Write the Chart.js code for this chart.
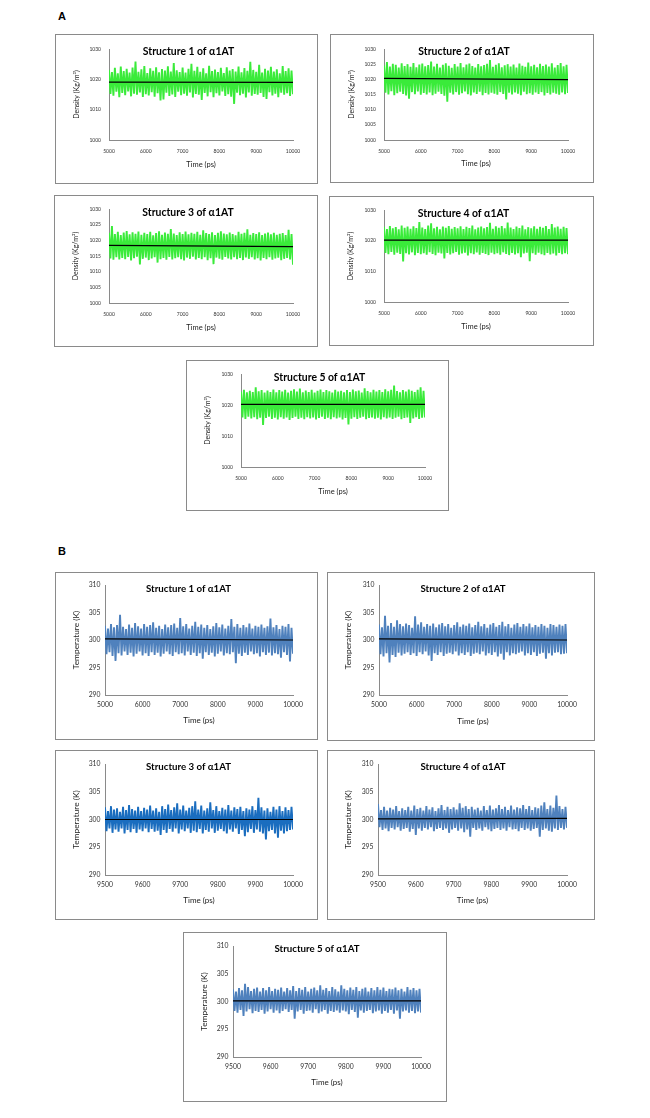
<!DOCTYPE html>
<html><head><meta charset="utf-8">
<script src="https://cdn.jsdelivr.net/npm/chart.js@4.4.1/dist/chart.umd.min.js"></script>
<style>
body{margin:0;background:#fff;width:650px;height:1118px;position:relative;overflow:hidden;font-family:Lato,sans-serif}
.panel{position:absolute;border:1px solid #8a8a8a;box-sizing:border-box;background:#fff}
.panel canvas{position:absolute;left:0;top:0}
.lbl{position:absolute;font:bold 11px "Liberation Sans",Arial,sans-serif;color:#000}
</style></head><body>
<div class="lbl" style="left:58px;top:10px">A</div>
<div class="lbl" style="left:58px;top:545px">B</div>
<script>
// ---------- sampled times (ps) ----------
const timesLong = [5000,5040,5080,5120,5160,5200,5240,5280,5320,5360,
 5400,5440,5480,5520,5560,5600,5640,5680,5720,5760,
 5800,5840,5880,5920,5960,6000,6040,6080,6120,6160,
 6200,6240,6280,6320,6360,6400,6440,6480,6520,6560,
 6600,6640,6680,6720,6760,6800,6840,6880,6920,6960,
 7000,7040,7080,7120,7160,7200,7240,7280,7320,7360,
 7400,7440,7480,7520,7560,7600,7640,7680,7720,7760,
 7800,7840,7880,7920,7960,8000,8040,8080,8120,8160,
 8200,8240,8280,8320,8360,8400,8440,8480,8520,8560,
 8600,8640,8680,8720,8760,8800,8840,8880,8920,8960,
 9000,9040,9080,9120,9160,9200,9240,9280,9320,9360,
 9400,9440,9480,9520,9560,9600,9640,9680,9720,9760,
 9800,9840,9880,9920,9960,10000];
const timesShort = [9500,9504,9508,9512,9516,9520,9524,9528,9532,9536,
 9540,9544,9548,9552,9556,9560,9564,9568,9572,9576,
 9580,9584,9588,9592,9596,9600,9604,9608,9612,9616,
 9620,9624,9628,9632,9636,9640,9644,9648,9652,9656,
 9660,9664,9668,9672,9676,9680,9684,9688,9692,9696,
 9700,9704,9708,9712,9716,9720,9724,9728,9732,9736,
 9740,9744,9748,9752,9756,9760,9764,9768,9772,9776,
 9780,9784,9788,9792,9796,9800,9804,9808,9812,9816,
 9820,9824,9828,9832,9836,9840,9844,9848,9852,9856,
 9860,9864,9868,9872,9876,9880,9884,9888,9892,9896,
 9900,9904,9908,9912,9916,9920,9924,9928,9932,9936,
 9940,9944,9948,9952,9956,9960,9964,9968,9972,9976,
 9980,9984,9988,9992,9996,10000];

// ---------- A: density (kg/m3), sampled signal + mean line ----------
const density1 = [1023.1,1015.2,1022.4,1014.6,1023.8,1015.9,1022.0,1014.1,1024.2,1015.5,
 1022.7,1014.8,1023.5,1016.0,1022.2,1014.4,1023.9,1015.3,1025.9,1014.9,
 1022.5,1015.7,1023.3,1014.2,1024.4,1015.1,1022.1,1014.7,1023.6,1015.8,
 1022.8,1014.3,1024.0,1015.4,1022.3,1013.0,1023.4,1013.4,1022.9,1015.6,
 1024.3,1014.5,1022.6,1015.0,1025.4,1014.2,1023.0,1015.9,1022.4,1014.8,
 1023.9,1015.3,1022.2,1014.6,1023.5,1015.7,1025.1,1014.0,1022.8,1015.2,
 1024.1,1014.9,1022.5,1013.2,1023.6,1015.5,1022.0,1014.4,1024.5,1015.8,
 1022.7,1014.1,1023.2,1015.4,1022.4,1014.7,1023.8,1016.0,1022.1,1014.5,
 1024.0,1015.1,1022.9,1014.3,1023.4,1011.9,1022.6,1015.6,1024.2,1014.8,
 1022.3,1015.3,1023.7,1014.0,1022.8,1015.7,1025.8,1014.6,1023.1,1015.2,
 1022.5,1014.9,1024.8,1015.5,1022.2,1014.2,1023.5,1013.5,1022.9,1015.8,
 1024.1,1014.7,1022.6,1015.3,1023.3,1014.1,1022.0,1015.6,1024.4,1014.9,
 1022.7,1015.4,1023.6,1014.5,1022.9,1015.1];
const densityMean1 = [1019.1,1019.0];

const density2 = [1024.6,1015.6,1025.7,1015.0,1024.2,1016.1,1025.1,1014.8,1024.8,1015.4,
 1023.9,1015.9,1025.3,1015.2,1024.4,1014.7,1025.0,1013.6,1024.1,1015.8,
 1025.4,1015.1,1024.0,1016.0,1024.9,1014.9,1025.2,1015.5,1024.3,1015.0,
 1024.7,1015.7,1025.9,1014.8,1024.2,1015.3,1025.1,1015.9,1023.9,1015.2,
 1024.8,1014.6,1025.3,1012.6,1024.5,1015.6,1023.8,1015.0,1025.0,1015.8,
 1024.2,1014.9,1025.4,1015.4,1024.0,1016.0,1024.9,1015.1,1025.2,1014.7,
 1024.4,1015.7,1023.9,1015.2,1025.0,1015.9,1024.3,1014.8,1024.7,1015.5,
 1025.1,1015.0,1026.4,1015.6,1024.1,1015.3,1024.8,1014.9,1025.3,1015.8,
 1024.0,1015.2,1024.6,1013.4,1025.0,1015.6,1024.2,1015.0,1024.9,1015.7,
 1023.9,1015.3,1025.2,1014.8,1024.5,1015.9,1024.1,1015.1,1025.5,1015.4,
 1024.3,1014.9,1024.8,1015.7,1024.0,1015.2,1025.1,1015.8,1024.4,1014.7,
 1024.9,1015.5,1024.2,1015.0,1025.3,1015.6,1023.9,1015.3,1024.7,1014.9,
 1025.4,1015.7,1024.3,1015.1,1024.8,1015.5];
const densityMean2 = [1020.3,1019.9];

const density3 = [1022.4,1014.2,1024.6,1013.8,1022.0,1014.6,1022.7,1013.9,1021.7,1014.4,
 1022.5,1014.0,1023.0,1014.7,1021.9,1013.6,1022.6,1014.3,1022.1,1014.8,
 1022.8,1012.3,1021.8,1014.1,1022.4,1014.5,1022.0,1013.7,1022.7,1014.2,
 1021.6,1014.6,1022.3,1012.9,1022.9,1014.0,1021.8,1014.4,1022.5,1013.8,
 1022.1,1014.7,1023.6,1013.9,1022.2,1014.3,1021.7,1014.6,1022.6,1014.0,
 1022.0,1013.6,1022.8,1014.5,1021.9,1014.1,1022.4,1014.8,1022.1,1013.9,
 1022.7,1014.4,1021.8,1014.0,1023.2,1014.6,1022.3,1013.7,1022.0,1014.3,
 1022.6,1012.4,1021.7,1014.5,1022.4,1014.1,1022.9,1013.8,1022.2,1014.7,
 1021.9,1014.2,1022.5,1013.9,1022.0,1014.6,1021.6,1014.0,1022.7,1014.4,
 1022.1,1013.7,1022.4,1014.5,1023.5,1014.1,1021.8,1014.6,1022.3,1013.9,
 1022.0,1014.3,1022.6,1013.6,1021.7,1014.4,1022.2,1014.0,1022.5,1014.6,
 1021.9,1013.8,1022.4,1014.2,1021.8,1014.5,1022.1,1013.7,1022.3,1014.1,
 1021.7,1014.4,1023.4,1013.9,1022.0,1012.2];
const densityMean3 = [1018.4,1018.0];

const density4 = [1024.5,1016.0,1023.8,1015.6,1024.8,1016.3,1024.0,1015.4,1024.4,1016.1,
 1023.7,1015.7,1024.9,1013.2,1024.2,1015.9,1024.6,1015.5,1023.9,1016.2,
 1024.7,1015.3,1024.1,1016.0,1026.1,1015.6,1024.3,1015.9,1023.8,1015.4,
 1024.9,1016.2,1025.7,1015.7,1024.0,1015.3,1024.5,1016.1,1023.7,1015.8,
 1024.6,1014.2,1024.2,1016.0,1024.8,1015.5,1023.9,1015.9,1024.4,1016.3,
 1024.0,1015.4,1024.7,1015.8,1023.8,1016.1,1024.5,1015.2,1024.1,1015.9,
 1024.9,1015.6,1023.7,1016.2,1024.3,1015.4,1024.6,1016.0,1024.0,1015.7,
 1024.4,1015.3,1025.8,1016.1,1023.9,1015.6,1024.7,1015.9,1024.2,1015.4,
 1024.8,1016.2,1024.0,1015.7,1025.9,1015.3,1024.3,1016.0,1023.8,1015.5,
 1024.6,1015.9,1024.1,1014.6,1024.9,1015.8,1023.7,1016.1,1024.4,1013.3,
 1024.0,1015.9,1024.7,1015.4,1023.9,1016.1,1024.5,1015.6,1024.2,1015.3,
 1024.8,1016.0,1023.8,1015.5,1025.4,1015.8,1024.3,1015.2,1024.6,1016.0,
 1023.9,1015.6,1024.5,1015.9,1024.1,1015.6];
const densityMean4 = [1020.2,1020.2];

const density5 = [1024.3,1016.0,1024.9,1015.5,1024.1,1016.2,1024.6,1015.7,1024.2,1016.1,
 1025.7,1015.4,1024.4,1015.9,1024.8,1013.6,1024.0,1015.8,1024.7,1016.2,
 1024.2,1015.5,1025.0,1015.9,1024.1,1015.3,1024.8,1016.1,1024.3,1015.6,
 1024.9,1016.0,1024.0,1015.2,1024.6,1015.8,1025.1,1016.2,1024.3,1015.5,
 1025.3,1015.9,1024.1,1015.4,1024.7,1016.1,1024.2,1015.7,1024.9,1016.0,
 1024.0,1015.3,1024.6,1015.8,1025.0,1016.2,1024.2,1015.5,1024.8,1015.9,
 1024.4,1015.4,1024.0,1016.1,1024.9,1015.7,1024.3,1016.0,1024.6,1015.3,
 1024.1,1015.8,1024.8,1013.7,1024.2,1015.6,1025.0,1016.1,1024.4,1015.5,
 1024.7,1015.9,1024.0,1016.2,1025.4,1015.4,1024.5,1015.8,1024.1,1016.0,
 1024.9,1015.6,1024.3,1015.9,1024.8,1015.3,1024.2,1016.1,1025.1,1015.7,
 1024.4,1016.0,1024.9,1015.5,1026.3,1015.9,1024.5,1016.2,1024.1,1015.4,
 1024.8,1015.8,1024.3,1016.0,1025.0,1014.2,1024.6,1015.7,1024.2,1016.1,
 1024.9,1015.5,1025.7,1015.9,1024.6,1016.0];
const densityMean5 = [1020.2,1020.2];

// ---------- B: temperature (K), sampled signal + mean line ----------
const temp1 = [302.6,297.4,302.1,297.8,302.9,297.1,302.3,296.2,302.7,297.6,
 304.6,297.2,302.4,297.9,302.0,297.3,302.8,297.7,302.2,297.0,
 303.1,297.5,302.5,297.9,302.1,297.2,302.9,297.6,302.4,297.1,
 302.7,297.8,303.2,297.3,302.2,297.7,302.6,297.0,302.0,297.5,
 302.8,297.9,302.3,297.4,302.7,297.1,303.0,297.8,302.2,297.4,
 304.0,297.6,302.5,297.2,302.9,297.9,302.1,297.3,302.6,297.7,
 303.3,297.1,302.4,297.6,302.8,296.6,302.2,297.8,302.7,297.3,
 302.0,297.7,302.5,297.0,303.1,297.5,302.3,297.9,302.8,297.2,
 302.1,297.6,302.6,297.4,303.8,297.8,302.4,295.8,302.9,297.5,
 302.2,297.1,302.7,297.7,302.3,297.3,303.0,297.9,302.1,297.4,
 302.6,297.6,302.4,297.0,302.8,297.8,302.2,297.3,302.5,297.7,
 303.9,297.2,302.3,297.6,302.7,297.4,302.0,296.8,302.6,297.8,
 302.4,297.3,302.9,296.1,302.2,297.5];
const tempMean1 = [300.2,300.0];

const temp2 = [302.8,297.4,302.3,297.0,304.4,297.6,302.6,295.9,303.1,297.3,
 302.4,296.9,303.6,297.7,302.9,297.2,302.5,297.5,303.0,297.8,
 302.7,297.3,302.2,297.6,304.3,297.1,302.8,297.8,303.2,297.4,
 302.4,297.9,302.9,297.2,302.6,296.2,303.0,297.6,302.3,297.3,
 302.8,297.8,303.1,297.1,302.5,297.5,302.9,297.7,302.2,297.4,
 302.7,297.9,303.2,297.2,302.4,297.6,302.8,297.3,302.6,297.8,
 303.0,297.1,302.3,297.5,302.7,297.7,303.3,297.4,302.5,297.9,
 302.9,297.2,302.2,297.6,302.8,297.3,303.1,297.8,302.4,297.0,
 302.7,297.5,303.3,296.4,302.5,297.8,302.9,297.2,302.2,297.6,
 302.8,297.4,303.1,297.7,302.4,297.9,302.9,297.2,302.5,297.6,
 303.0,297.3,302.3,297.8,302.7,297.1,302.4,297.5,302.9,297.7,
 302.6,296.6,302.2,297.6,302.9,297.2,302.7,297.7,302.4,297.8,
 302.8,297.4,302.6,297.5,302.9,297.6];
const tempMean2 = [300.2,300.0];

const temp3 = [302.2,297.9,301.5,298.4,302.4,297.6,301.8,298.2,302.0,297.8,
 301.4,298.4,302.3,297.5,301.7,298.1,302.6,297.7,301.9,298.3,
 301.6,297.6,302.3,298.2,301.5,297.9,302.1,298.4,301.8,297.7,
 302.5,298.3,301.6,297.8,302.0,298.0,301.4,297.2,302.4,298.1,
 301.9,297.6,302.7,298.3,301.7,297.8,302.2,298.4,302.9,297.5,
 301.8,298.2,302.5,297.9,301.6,298.4,302.1,297.6,302.4,298.0,
 303.3,297.7,301.8,298.3,302.5,297.5,301.6,298.1,302.0,297.8,
 303.1,298.4,301.7,297.6,302.4,298.0,301.5,298.3,302.1,297.9,
 301.8,297.5,302.6,298.2,301.6,297.8,302.2,298.4,301.9,297.4,
 302.3,298.1,301.5,297.0,302.0,297.7,301.8,298.3,302.4,297.6,
 301.7,298.2,303.9,297.8,302.2,297.5,301.6,296.4,302.0,297.9,
 301.4,298.1,302.3,297.5,301.8,296.7,302.4,298.0,301.5,297.5,
 302.2,297.9,301.7,298.1,302.3,298.2];
const tempMean3 = [300.0,300.0];

const temp4 = [302.8,298.6,301.7,298.1,302.3,298.4,301.6,297.9,302.1,298.5,
 301.8,298.2,302.4,298.6,301.5,298.0,302.0,298.3,301.7,298.5,
 302.3,297.8,301.6,298.3,302.5,297.2,301.9,298.4,302.1,298.0,
 301.6,298.5,302.4,298.2,301.8,298.6,302.2,297.9,301.5,298.3,
 302.0,298.5,302.6,298.1,301.7,298.4,302.3,297.6,301.9,298.2,
 302.2,298.5,301.8,298.0,302.9,298.4,302.1,297.7,302.4,298.2,
 301.9,296.9,302.3,298.5,301.8,298.1,302.1,298.4,301.6,298.0,
 302.4,298.6,301.7,298.2,302.5,297.9,301.8,298.3,302.0,298.5,
 302.6,298.1,301.9,298.4,302.3,298.0,301.7,298.6,302.5,298.2,
 301.8,298.3,302.2,297.9,302.0,298.5,302.6,298.1,301.9,298.4,
 302.4,298.0,301.7,298.3,302.2,298.5,302.0,296.9,302.5,298.1,
 303.1,298.4,301.9,298.0,302.5,297.8,302.1,298.4,304.3,298.1,
 302.4,298.5,301.9,298.2,302.3,298.5];
const tempMean4 = [300.1,300.2];

const temp5 = [302.2,298.3,301.8,298.0,302.4,298.5,302.0,297.4,303.2,298.2,
 302.6,298.6,301.9,297.9,302.3,298.3,302.5,298.1,301.8,298.5,
 302.4,297.8,302.0,298.2,302.6,298.6,301.9,298.0,302.3,298.4,
 302.1,297.9,302.5,298.3,301.8,298.6,302.4,298.1,302.0,298.5,
 302.8,296.9,301.9,298.2,302.4,298.5,302.1,297.8,302.6,298.3,
 301.8,298.4,302.3,298.0,302.5,298.6,302.0,297.9,302.9,298.2,
 302.1,298.5,302.4,297.8,301.9,298.3,302.6,298.1,302.2,298.4,
 301.8,298.0,302.9,298.4,302.3,298.2,302.0,297.7,302.5,298.5,
 302.1,298.1,302.6,297.1,301.9,298.4,302.3,298.0,302.5,298.3,
 301.8,298.5,302.4,297.9,302.0,298.2,302.6,298.4,302.1,297.8,
 302.5,298.3,301.9,298.0,302.3,298.5,302.2,297.8,302.5,298.4,
 302.0,296.9,302.3,298.2,301.8,298.4,302.6,298.0,302.1,298.3,
 302.4,297.9,302.0,298.2,302.3,298.0];
const tempMean5 = [300.1,300.1];

// ---------- axis ranges ----------
const densTicksFine = {min:1000, max:1030, step:5};
const densTicksCoarse = {min:1000, max:1030, step:10};
const tempTicks = {min:290, max:310, step:5};
const xLong = {min:5000, max:10000, step:1000};
const xShort = {min:9500, max:10000, step:100};

// ---------- layout (positions, styles) ----------
const GREEN = '#3aeb3a';
const BLUE = '#4f81bd';
const BLUE_DARK = '#1a6dbf';
const FONT = 'Lato, "Open Sans", sans-serif';

const styleA = {tick:5, tickPadY:8, tickPadX:8, ytitle:'Density (Kg/m³)', ytitleSize:7, ytitleX:20.5,
  xtitleSize:7.5, xtitleFromBottom:18, titleSize:10.4, titleY:17};
const styleB = {tick:6.8, tickPadY:4.5, tickPadX:6, ytitle:'Temperature (K)', ytitleSize:8.4, ytitleX:20,
  xtitleSize:8, xtitleFromBottom:19, titleSize:9.7, titleY:15.5};

const panels = [
 {box:[55,34,318,184], plot:[109,49,293,140], st:styleA, n:1, x:xLong, xs:timesLong, y:densTicksCoarse, sig:density1, mean:densityMean1, color:GREEN},
 {box:[330,34,594,183], plot:[384,49,568,140], st:styleA, n:2, x:xLong, xs:timesLong, y:densTicksFine, sig:density2, mean:densityMean2, color:GREEN},
 {box:[54,195,318,347], plot:[109,209,293,303], st:styleA, n:3, x:xLong, xs:timesLong, y:densTicksFine, sig:density3, mean:densityMean3, color:GREEN},
 {box:[329,196,594,346], plot:[384,210,568,302], st:styleA, n:4, x:xLong, xs:timesLong, y:densTicksCoarse, sig:density4, mean:densityMean4, color:GREEN},
 {box:[186,360,449,511], plot:[241,374,425,467], st:styleA, n:5, x:xLong, xs:timesLong, y:densTicksCoarse, sig:density5, mean:densityMean5, color:GREEN},
 {box:[55,572,318,740], plot:[105,585,293,695], st:styleB, n:1, x:xLong, xs:timesLong, y:tempTicks, sig:temp1, mean:tempMean1, color:BLUE},
 {box:[327,572,595,741], plot:[379,585,567,695], st:styleB, n:2, x:xLong, xs:timesLong, y:tempTicks, sig:temp2, mean:tempMean2, color:BLUE},
 {box:[55,750,318,920], plot:[105,764,293,875], st:styleB, n:3, x:xShort, xs:timesShort, y:tempTicks, sig:temp3, mean:tempMean3, color:BLUE_DARK},
 {box:[327,750,595,920], plot:[378,764,567,875], st:styleB, n:4, x:xShort, xs:timesShort, y:tempTicks, sig:temp4, mean:tempMean4, color:BLUE},
 {box:[183,932,447,1102], plot:[233,946,421,1057], st:styleB, n:5, x:xShort, xs:timesShort, y:tempTicks, sig:temp5, mean:tempMean5, color:BLUE}
];

const titlePlugin = {
  id:'panelTitle',
  afterDraw(chart, args, o){
    const ctx = chart.ctx;
    ctx.save();
    ctx.font = 'bold ' + o.size + 'px ' + FONT;
    ctx.fillStyle = '#000';
    ctx.textAlign = 'center';
    ctx.textBaseline = 'middle';
    ctx.fillText(o.text, chart.width/2 + 2, o.y);
    ctx.restore();
  }
};

panels.forEach(p => {
  const [bl,bt,br,bb] = p.box;
  const [pl,pt,pr,pb] = p.plot;
  const st = p.st;
  const div = document.createElement('div');
  div.className = 'panel';
  div.style.left = bl+'px'; div.style.top = bt+'px';
  div.style.width = (br-bl)+'px'; div.style.height = (bb-bt)+'px';
  const cv = document.createElement('canvas');
  const w = br-bl-2, h = bb-bt-2;
  cv.width = w; cv.height = h;
  cv.style.width = w+'px'; cv.style.height = h+'px';
  div.appendChild(cv);
  document.body.appendChild(div);

  const ox = bl+1, oy = bt+1;
  const yWidth = pl-ox, padTop = pt-oy, padRight = (br-1)-pr, xHeight = (bb-1)-pb;
  const xtLH = st.xtitleSize*1.2, ytLH = st.ytitleSize*1.2;

  const sigPts = p.xs.map((t,i) => ({x:t, y:p.sig[i]}));
  const meanPts = [{x:p.xs[0], y:p.mean[0]}, {x:p.xs[p.xs.length-1], y:p.mean[1]}];

  new Chart(cv, {
    type:'line',
    data:{datasets:[
      {data:sigPts, borderColor:p.color, borderWidth:1.9, borderJoinStyle:'bevel', pointRadius:0, fill:false, tension:0, order:1},
      {data:meanPts, borderColor:'#000', borderWidth:1.2, pointRadius:0, fill:false, order:0}
    ]},
    options:{
      responsive:false, animation:false, devicePixelRatio:1,
      layout:{padding:{left:0, top:padTop, right:padRight, bottom:0}},
      plugins:{legend:{display:false}, tooltip:{enabled:false},
        panelTitle:{text:'Structure '+p.n+' of α1AT', size:st.titleSize, y:st.titleY}},
      scales:{
        x:{type:'linear', min:p.x.min, max:p.x.max,
          ticks:{stepSize:p.x.step, color:'#333', font:{family:FONT, size:st.tick}, padding:st.tickPadX,
            maxRotation:0, autoSkip:false, format:{useGrouping:false}},
          grid:{display:false, drawTicks:false},
          border:{display:true, color:'#8a8a8a', width:1},
          title:{display:true, text:'Time (ps)', color:'#222', font:{family:FONT, size:st.xtitleSize},
            padding:{top:0, bottom:st.xtitleFromBottom - xtLH/2}},
          afterFit(s){ s.height = xHeight; }
        },
        y:{type:'linear', min:p.y.min, max:p.y.max,
          ticks:{stepSize:p.y.step, color:'#333', font:{family:FONT, size:st.tick}, padding:st.tickPadY,
            format:{useGrouping:false}},
          grid:{display:false, drawTicks:false},
          border:{display:true, color:'#8a8a8a', width:1},
          title:{display:true, text:st.ytitle, color:'#222', font:{family:FONT, size:st.ytitleSize},
            padding:{top:st.ytitleX - ytLH/2, bottom:0}},
          afterFit(s){ s.width = yWidth; }
        }
      }
    },
    plugins:[titlePlugin]
  });
});
</script>
</body></html>
